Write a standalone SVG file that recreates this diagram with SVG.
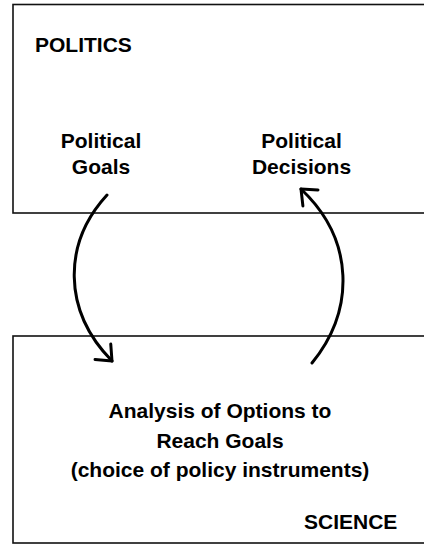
<svg xmlns="http://www.w3.org/2000/svg" width="424" height="546" viewBox="0 0 424 546">
  <style>
    .box { fill: #ffffff; stroke: #111111; stroke-width: 1.6; }
    .t { font-family: "Liberation Sans", Arial, Helvetica, sans-serif; font-weight: bold; font-size: 21px; fill: #000000; }
    .mid { text-anchor: middle; }
    .conn { fill: none; stroke: #000000; stroke-width: 3; stroke-linecap: round; }
    .head { fill: none; stroke: #000000; stroke-width: 3; stroke-linecap: round; stroke-linejoin: round; }
  </style>
  <defs>
    <marker id="arrow" markerUnits="userSpaceOnUse" viewBox="-16 -14 20 28" refX="0" refY="0" markerWidth="20" markerHeight="28" orient="auto" overflow="visible">
      <path class="head" d="M-13,-11 L0,0 L-13,11"/>
    </marker>
  </defs>
  <g id="politics">
    <rect class="box" x="13" y="4.5" width="420" height="208.5"/>
    <text class="t" x="35" y="52">POLITICS</text>
  </g>
  <g id="political-goals">
    <text class="t mid" x="101" y="148">Political</text>
    <text class="t mid" x="101" y="174">Goals</text>
  </g>
  <g id="political-decisions">
    <text class="t mid" x="301.5" y="148">Political</text>
    <text class="t mid" x="301.5" y="174">Decisions</text>
  </g>
  <g id="science">
    <rect class="box" x="13" y="336" width="420" height="207"/>
    <text class="t" x="304" y="529">SCIENCE</text>
  </g>
  <g id="analysis">
    <text class="t mid" x="220" y="418">Analysis of Options to</text>
    <text class="t mid" x="220" y="448">Reach Goals</text>
    <text class="t mid" x="220" y="477">(choice of policy instruments)</text>
  </g>
  <g id="connectors">
    <path class="conn" d="M107,195 C63,243 62,310 112,361" marker-end="url(#arrow)"/>
    <path class="conn" d="M312,363 C355,310 355,240 301,189" marker-end="url(#arrow)"/>
  </g>
</svg>
